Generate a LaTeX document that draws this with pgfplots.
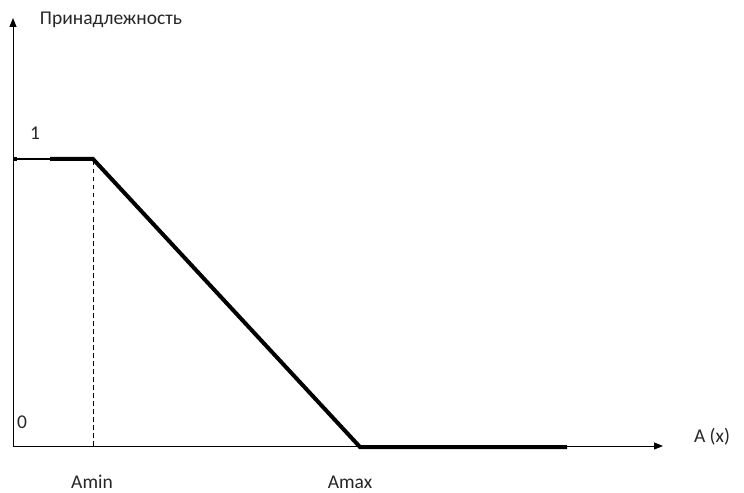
\documentclass[border=0pt]{standalone}
\usepackage{pgfplots}
\pgfplotsset{compat=1.18}
\usepackage{fontspec}
\setmainfont{Carlito}
\usetikzlibrary{arrows.meta}
\newcommand{\lab}{\fontsize{19.5}{23}\selectfont\color{black!85}}

\begin{document}
\begin{tikzpicture}
\begin{axis}[
    width=744pt, height=492pt,
    scale only axis,
    xmin=0, xmax=744,
    ymin=0, ymax=492,
    y dir=reverse,
    axis lines=none,
    clip=false,
]
% invisible frame keeps the page size
\draw[draw=none] (rel axis cs:0,0) rectangle (rel axis cs:1,1);

% axes
\addplot[black, line width=1pt, -{Triangle[length=9pt,width=7pt]}] coordinates {(13,447) (13,18)};
\addplot[black, line width=1pt, -{Triangle[length=9pt,width=7pt]}] coordinates {(13,446) (663,446)};

% level 1 guide
\addplot[black, line width=1.2pt] coordinates {(13,159) (50,159)};
\addplot[black, line width=3.5pt] coordinates {(13,159) (17,159)};

% dashed drop at Amin
\addplot[black, line width=0.9pt, dash pattern=on 4.5pt off 3.5pt] coordinates {(93,161) (93,446)};

% membership function
\addplot[black, line width=4pt, line join=miter] coordinates {(50,159) (93,159) (360,447) (567,447)};

% labels
\node at (axis cs:111,20) {\lab Принадлежность};
\node at (axis cs:35,133) {\lab 1};
\node at (axis cs:22,422) {\lab 0};
\node at (axis cs:92,482) {\lab Amin};
\node at (axis cs:350,482) {\lab Amax};
\node at (axis cs:712,437) {\lab A (x)};
\end{axis}
\end{tikzpicture}
\end{document}
